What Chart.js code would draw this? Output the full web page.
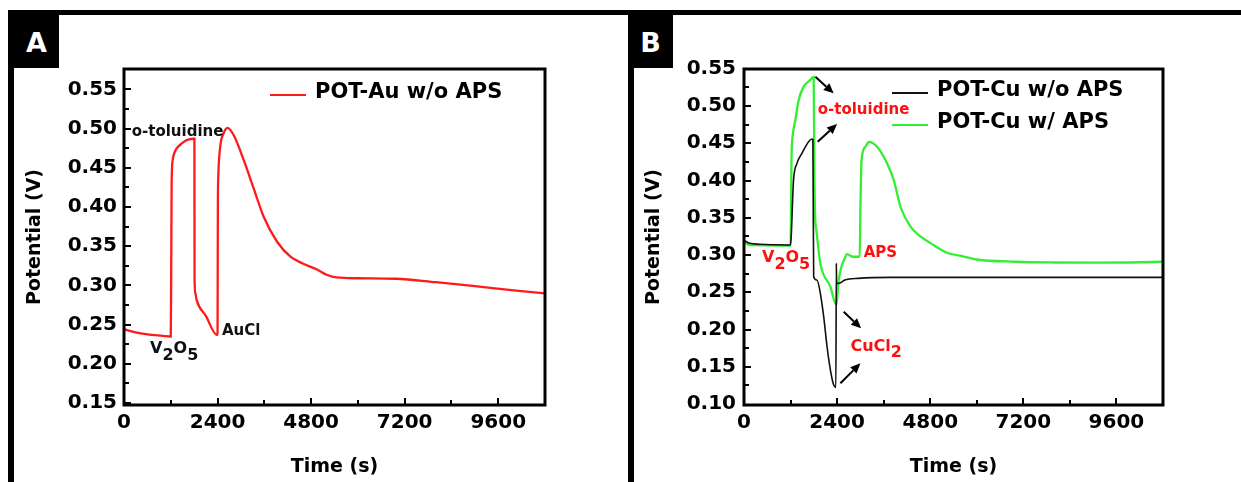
<!DOCTYPE html>
<html><head><meta charset="utf-8">
<script src="https://cdn.jsdelivr.net/npm/chart.js@4.4.0/dist/chart.umd.min.js"></script>
<style>
html,body{margin:0;padding:0;background:#fff;}
#wrap{position:relative;width:1241px;height:482px;overflow:hidden;background:#fff;}
.cv{position:absolute;top:0;height:482px;}
#ca{left:0;width:620px;} #cb{left:620px;width:621px;}
.bar{position:absolute;background:#000;}
.lbl{position:absolute;background:#000;color:#fff;font:bold 27px "DejaVu Sans";box-sizing:border-box;text-align:center;}
</style></head><body>
<div id="wrap">
<div class="cv" id="ca"><canvas id="chartA"></canvas></div>
<div class="cv" id="cb"><canvas id="chartB"></canvas></div>
<div class="bar" style="left:8px;top:10px;width:1233px;height:5px"></div>
<div class="bar" style="left:8px;top:10px;width:6px;height:472px"></div>
<div class="bar" style="left:628px;top:10px;width:6px;height:472px"></div>
<div class="lbl" style="left:8px;top:10px;width:51px;height:58px;padding-left:6px;line-height:66px">A</div>
<div class="lbl" style="left:628px;top:10px;width:45px;height:58px;line-height:66px">B</div>
</div>
<script>
// ---------- data ----------
const auTime = [0,300,600,1000,1200,1212,1222,1250,1300,1355,1484,1600,1700,1790,1806,1810,1830,1862,2100,2385,2400,2408,2420,2469,2555,2658,2812,3070,3326,3583,3927,4270,4600,4939,5200,5453,6000,6975,8000,9002,10000,10800];
const auPotential = [0.244,0.240,0.2375,0.2355,0.2345,0.33,0.43,0.460,0.470,0.475,0.481,0.485,0.4866,0.487,0.487,0.31,0.29,0.2815,0.261,0.2366,0.24,0.40,0.44,0.477,0.494,0.501,0.4917,0.460,0.4237,0.3875,0.3556,0.3365,0.3275,0.3204,0.3135,0.3100,0.3090,0.3084,0.304,0.299,0.2935,0.2898];

const cuTimeNoAps = [0,150,400,800,1200,1222,1250,1277,1365,1494,1664,1754,1775,1782,1796,1880,1968,2054,2141,2227,2312,2368,2380,2386,2441,2600,2940,3800,6000,10800];
const cuPotNoAps = [0.320,0.3157,0.3145,0.3138,0.3134,0.33,0.37,0.4007,0.423,0.4365,0.452,0.4557,0.455,0.40,0.2709,0.2664,0.2486,0.2172,0.1769,0.1456,0.1255,0.1224,0.289,0.262,0.262,0.2664,0.2687,0.270,0.270,0.270];

const cuTimeAps = [0,150,600,1200,1212,1225,1260,1323,1410,1538,1710,1796,1812,1835,1865,1968,2226,2381,2441,2613,2657,2800,2983,3000,3030,3130,3215,3431,3689,3860,4033,4291,4550,4807,5237,5666,6000,7000,8000,9040,10000,10800];
const cuPotAps = [0.318,0.3135,0.313,0.3125,0.36,0.43,0.462,0.481,0.508,0.526,0.535,0.539,0.42,0.35,0.3336,0.2888,0.2575,0.2329,0.2664,0.2977,0.3013,0.2977,0.2977,0.36,0.4275,0.4454,0.452,0.4454,0.423,0.4007,0.3648,0.338,0.325,0.316,0.303,0.298,0.294,0.291,0.290,0.2897,0.290,0.291];

const xTickValues = [0,2400,4800,7200,9600];
const yTickValuesA = [0.15,0.20,0.25,0.30,0.35,0.40,0.45,0.50,0.55];
const yTickValuesB = [0.10,0.15,0.20,0.25,0.30,0.35,0.40,0.45,0.50,0.55];

const labelA = 'POT-Au w/o APS';
const labelNoAps = 'POT-Cu w/o APS';
const labelAps = 'POT-Cu w/ APS';

// ---------- helpers ----------
Chart.defaults.font.family = '"DejaVu Sans", sans-serif';
Chart.defaults.color = '#000';

function pts(xs, ys){ return xs.map((t,i)=>({x:t,y:ys[i]})); }

const decoPlugin = {
  id:'deco',
  afterDraw(chart, args, o){
    const {ctx, chartArea:a, scales:{x,y}} = chart;
    ctx.save();
    ctx.strokeStyle='#000'; ctx.lineWidth=2;
    // inward x ticks
    for (let v = o.xMinor; v < x.max - 1; v += o.xMinor){
      const px = Math.round(x.getPixelForValue(v));
      const major = Math.abs(v/o.xMajor - Math.round(v/o.xMajor)) < 1e-6;
      const len = major ? 7 : 5;
      ctx.beginPath(); ctx.moveTo(px,a.bottom); ctx.lineTo(px,a.bottom-len); ctx.stroke();
    }
    // inward y ticks
    for (let k = Math.ceil(y.min/o.yMinor - 1e-6); k*o.yMinor < y.max; k++){
      const v = k*o.yMinor;
      const py = Math.round(y.getPixelForValue(v));
      if (py >= a.bottom - 1 || py <= a.top + 1) continue;
      const major = k % 2 === 0;
      const len = major ? 7 : 5;
      ctx.beginPath(); ctx.moveTo(a.left,py); ctx.lineTo(a.left+len,py); ctx.stroke();
    }
    // frame
    ctx.lineWidth = 3;
    ctx.strokeRect(a.left, a.top, a.right-a.left, a.bottom-a.top);
    // legend
    ctx.font = 'bold 21px "DejaVu Sans"';
    ctx.textBaseline = 'middle'; ctx.textAlign = 'left';
    chart.data.datasets.forEach((ds,i)=>{
      const ly = a.top + o.legend.y + i*o.legend.gap;
      ctx.strokeStyle = ds.borderColor; ctx.lineWidth = 2;
      ctx.beginPath(); ctx.moveTo(a.left+o.legend.x, ly); ctx.lineTo(a.left+o.legend.x+36, ly); ctx.stroke();
      ctx.fillStyle = '#000';
      ctx.fillText(ds.label, a.left+o.legend.x+45, ly-2);
    });
    // text annotations
    (o.texts||[]).forEach(t=>{
      ctx.font = 'bold '+t.size+'px "DejaVu Sans"';
      ctx.fillStyle = t.color;
      let px = x.getPixelForValue(t.x);
      const py = y.getPixelForValue(t.y);
      t.parts.forEach(([s,sub])=>{
        ctx.fillText(s, px, py + (sub ? t.sub : 0));
        px += ctx.measureText(s).width;
      });
    });
    // arrows
    (o.arrows||[]).forEach(ar=>{
      const x1=x.getPixelForValue(ar.x1), y1=y.getPixelForValue(ar.y1);
      const x2=x.getPixelForValue(ar.x2), y2=y.getPixelForValue(ar.y2);
      const ang = Math.atan2(y2-y1, x2-x1);
      const hl = 10, hw = 4.5;
      const bx = x2 - hl*Math.cos(ang), by = y2 - hl*Math.sin(ang);
      ctx.strokeStyle='#000'; ctx.fillStyle='#000'; ctx.lineWidth=2;
      ctx.beginPath(); ctx.moveTo(x1,y1); ctx.lineTo(bx,by); ctx.stroke();
      ctx.beginPath();
      ctx.moveTo(x2,y2);
      ctx.lineTo(bx + hw*Math.sin(ang), by - hw*Math.cos(ang));
      ctx.lineTo(bx - hw*Math.sin(ang), by + hw*Math.cos(ang));
      ctx.closePath(); ctx.fill();
    });
    ctx.restore();
  }
};

function makeChart(id, datasets, yMin, yMax, yTicks, padRight, yLabelPad, yTitlePad, deco){
  return new Chart(document.getElementById(id), {
    type:'line',
    data:{datasets},
    plugins:[decoPlugin],
    options:{
      responsive:true, maintainAspectRatio:false, animation:false,
      layout:{padding:{left:0,right:padRight,top:69,bottom:0}},
      plugins:{legend:{display:false}, tooltip:{enabled:false}, deco},
      elements:{point:{radius:0}, line:{tension:0, cubicInterpolationMode:'monotone'}},
      scales:{
        x:{type:'linear', min:0, max:10800,
          afterBuildTicks:s=>{ s.ticks = xTickValues.map(v=>({value:v})); },
          afterFit:s=>{ s.height = 77; },
          grid:{display:false, drawTicks:false}, border:{display:false},
          ticks:{color:'#000', font:{size:20, weight:'bold'}, padding:6, maxRotation:0, autoSkip:false, callback:v=>String(v)},
          title:{display:true, text:'Time (s)', color:'#000', font:{size:19, weight:'bold'}, padding:{top:0,bottom:4}}
        },
        y:{type:'linear', min:yMin, max:yMax,
          afterBuildTicks:s=>{ s.ticks = yTicks.map(v=>({value:v})); },
          afterFit:s=>{ s.width = 124; },
          grid:{display:false, drawTicks:false}, border:{display:false},
          ticks:{color:'#000', font:{size:20, weight:'bold'}, padding:yLabelPad, autoSkip:false, callback:v=>Number(v).toFixed(2)},
          title:{display:true, text:'Potential (V)', color:'#000', font:{size:19, weight:'bold'}, padding:{top:yTitlePad,bottom:0}}
        }
      }
    }
  });
}

const V2O5 = [['V',0],['2',1],['O',0],['5',1]];

makeChart('chartA',
  [{label:labelA, data:pts(auTime,auPotential), borderColor:'#ff1a1a', borderWidth:2.3, fill:false}],
  0.1473, 0.576, yTickValuesA, 75, 7, 24,
  {xMinor:1200, xMajor:2400, yMinor:0.025,
   legend:{x:146, y:26, gap:32},
   texts:[
     {parts:[['o-toluidine',0]], x:198, y:0.496, color:'#111', size:15, sub:0},
     {parts:V2O5, x:669, y:0.2188, color:'#111', size:16, sub:7},
     {parts:[['AuCl',0]], x:2513, y:0.242, color:'#111', size:15, sub:0}
   ],
   arrows:[]
  });

makeChart('chartB',
  [{label:labelNoAps, data:pts(cuTimeNoAps,cuPotNoAps), borderColor:'#111111', borderWidth:1.6, fill:false},
   {label:labelAps, data:pts(cuTimeAps,cuPotAps), borderColor:'#33ee33', borderWidth:2.3, fill:false}],
  0.0987, 0.5497, yTickValuesB, 78, 8, 23,
  {xMinor:1200, xMajor:2400, yMinor:0.025,
   legend:{x:148, y:24, gap:32},
   texts:[
     {parts:[['o-toluidine',0]], x:1899, y:0.4946, color:'#ff1010', size:15, sub:0},
     {parts:V2O5, x:464, y:0.296, color:'#ff1010', size:16, sub:7},
     {parts:[['APS',0]], x:3086, y:0.3023, color:'#ff1010', size:15, sub:0},
     {parts:[['CuCl',0],['2',1]], x:2743, y:0.1769, color:'#ff1010', size:16, sub:6}
   ],
   arrows:[
     {x1:1840,y1:0.5393,x2:2312,y2:0.517},
     {x1:1899,y1:0.452,x2:2399,y2:0.4758},
     {x1:2570,y1:0.2239,x2:3019,y2:0.2016},
     {x1:2485,y1:0.1278,x2:3001,y2:0.1546}
   ]
  });
</script>
</body></html>
